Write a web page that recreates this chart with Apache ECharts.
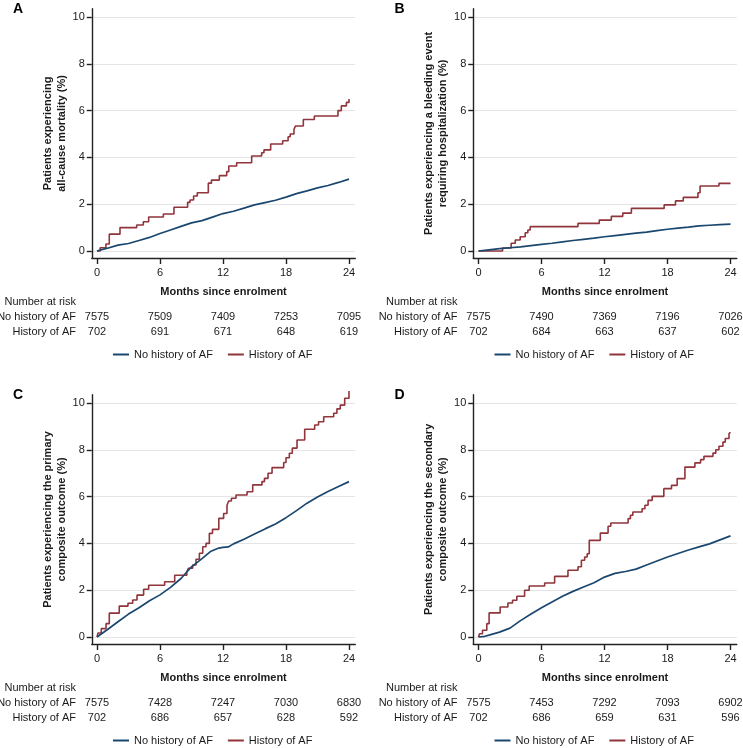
<!DOCTYPE html>
<html><head><meta charset="utf-8">
<script src="https://cdn.jsdelivr.net/npm/echarts@6/dist/echarts.min.js"></script>
<style>html,body{margin:0;padding:0;background:#fff}#c{width:743px;height:748px}</style>
</head><body><div id="c"></div>
<script>
// ---------- data ----------
const months = [0, 6, 12, 18, 24];
const yTicks = [0, 2, 4, 6, 8, 10];
const seriesNames = ['No history of AF', 'History of AF'];
const riskHeader = 'Number at risk';
const xTitle = 'Months since enrolment';

// Panel A: all-cause mortality
const aTitle = 'Patients experiencing\nall-cause mortality (%)';
const aBlueT = [0,1,2,3,4,5,6,7,8,9,10,11,12,13,14,15,16,17,18,19,20,21,22,23,24];
const aBlueV = [0,0.12,0.25,0.32,0.45,0.58,0.75,0.9,1.05,1.2,1.3,1.45,1.6,1.7,1.83,1.97,2.07,2.17,2.3,2.45,2.57,2.7,2.8,2.93,3.07];
const aRedT = [0,0.3,0.85,1.17,2.19,3.78,4.41,4.92,6.32,7.33,8.63,8.86,9.2,9.55,10.6,10.9,11.65,12.35,12.55,13.3,14.73,15.68,15.9,16.54,17.68,18.2,18.4,18.76,18.9,19.65,20.7,22.95,23.27,23.75,24];
const aRedV = [0,0.14,0.3,0.72,1.0,1.11,1.25,1.45,1.58,1.87,2.08,2.18,2.35,2.49,2.9,3.03,3.22,3.39,3.63,3.77,4.06,4.2,4.32,4.57,4.71,4.88,5.0,5.2,5.34,5.62,5.77,6.0,6.2,6.35,6.5];
const aRiskNo = [7575, 7509, 7409, 7253, 7095];
const aRiskAf = [702, 691, 671, 648, 619];

// Panel B: bleeding event requiring hospitalization
const bTitle = 'Patients experiencing a bleeding event\nrequiring hospitalization (%)';
const bBlueT = [0,1,2,3,4,5,6,7,8,9,10,11,12,13,14,15,16,17,18,19,20,21,22,23,24];
const bBlueV = [0,0.05,0.1,0.14,0.18,0.23,0.28,0.33,0.39,0.45,0.5,0.55,0.61,0.66,0.71,0.76,0.81,0.87,0.93,0.98,1.02,1.07,1.1,1.13,1.15];
const bRedT = [0,2.29,3.11,3.5,3.97,4.45,4.7,4.92,9.47,11.5,12.65,13.74,14.56,17.68,18.76,19.5,20.9,21.1,22.9,24];
const bRedV = [0,0.13,0.33,0.47,0.61,0.78,0.9,1.04,1.18,1.32,1.48,1.62,1.82,1.97,2.14,2.29,2.49,2.78,2.89,2.89];
const bRiskNo = [7575, 7490, 7369, 7196, 7026];
const bRiskAf = [702, 684, 663, 637, 602];

// Panel C: primary composite outcome
const cTitle = 'Patients experiencing the primary\ncomposite outcome (%)';
const cBlueT = [0,1,2,3,4,5,6,7,8,9,10,10.8,11.6,12,12.5,13,14,15,16,17,18,19,20,21,22,23,24];
const cBlueV = [0,0.32,0.65,0.98,1.25,1.55,1.8,2.12,2.5,3.0,3.35,3.65,3.8,3.83,3.85,3.98,4.18,4.4,4.62,4.83,5.1,5.4,5.72,5.98,6.22,6.43,6.64];
const cRedT = [0,0.1,0.41,0.86,1.17,2.12,2.95,3.4,3.81,4.44,4.92,6.44,7.4,8.55,8.72,9.11,9.43,9.75,10.07,10.38,10.7,11.0,11.6,12.06,12.38,12.54,12.8,13.24,14.29,14.83,15.71,15.95,16.29,16.67,17.78,18.0,18.32,18.6,19.05,19.78,20.73,21.1,21.59,22.54,22.85,23.17,23.59,24];
const cRedV = [0,0.17,0.36,0.57,1.02,1.32,1.44,1.58,1.79,2.04,2.21,2.36,2.64,2.78,2.94,3.08,3.32,3.58,3.86,4.0,4.43,4.6,5.07,5.28,5.63,5.81,5.93,6.07,6.21,6.5,6.64,6.78,7.0,7.24,7.46,7.66,7.85,8.07,8.42,8.88,9.06,9.2,9.41,9.56,9.75,9.91,10.2,10.51];
const cRiskNo = [7575, 7428, 7247, 7030, 6830];
const cRiskAf = [702, 686, 657, 628, 592];

// Panel D: secondary composite outcome
const dTitle = 'Patients experiencing the secondary\ncomposite outcome (%)';
const dBlueT = [0,0.6,1,2,3,4,5,6,7,8,9,10,11,12,13,14,15,16,17,18,19,20,21,22,23,24];
const dBlueV = [0,0.03,0.08,0.21,0.38,0.7,0.98,1.25,1.5,1.74,1.95,2.14,2.32,2.56,2.72,2.8,2.9,3.08,3.25,3.42,3.57,3.72,3.85,3.98,4.15,4.32];
const dRedT = [0,0.1,0.38,0.79,1.01,2.06,2.8,3.24,3.65,4.39,4.83,6.3,7.25,8.52,9.48,9.8,10.11,10.35,10.55,11.6,12.34,12.6,14.25,14.47,14.7,15.58,15.85,16.15,16.54,17.65,18.38,18.92,19.66,20.61,21.15,21.47,22.33,22.6,22.9,23.28,23.5,23.86,24];
const dRedV = [0,0.14,0.29,0.57,1.03,1.28,1.45,1.57,1.74,2.0,2.18,2.31,2.59,2.85,3.0,3.28,3.42,3.56,4.13,4.44,4.73,4.87,5.06,5.2,5.34,5.48,5.63,5.84,6.01,6.34,6.48,6.77,7.26,7.44,7.58,7.72,7.86,8.0,8.15,8.33,8.48,8.69,8.75];
const dRiskNo = [7575, 7453, 7292, 7093, 6902];
const dRiskAf = [702, 686, 659, 631, 596];

// ---------- layout / style ----------
const BLUE = '#1a476f', RED = '#90353b', INK = '#1a1a1a';
const FONT = '"Liberation Sans", Arial, Helvetica, sans-serif';
const PX = 10.5, PY = 23.4;           // pixels per month / per %
const XMIN = -0.5, XMAX = 24.6, YMIN = -0.3, YMAX = 10.35;

const panels = [
  {letter:'A', x0:97,  y0:251, title:aTitle, bt:aBlueT, bv:aBlueV, rt:aRedT, rv:aRedV, rn:aRiskNo, ra:aRiskAf},
  {letter:'B', x0:478.5, y0:251, title:bTitle, bt:bBlueT, bv:bBlueV, rt:bRedT, rv:bRedV, rn:bRiskNo, ra:bRiskAf},
  {letter:'C', x0:97,  y0:637, title:cTitle, bt:cBlueT, bv:cBlueV, rt:cRedT, rv:cRedV, rn:cRiskNo, ra:cRiskAf},
  {letter:'D', x0:478.5, y0:637, title:dTitle, bt:dBlueT, bv:dBlueV, rt:dRedT, rv:dRedV, rn:dRiskNo, ra:dRiskAf}
];

const zip = (t, v) => t.map((x, i) => [x, v[i]]);
const axisLineStyle = {color:'#222', width:1.4};
const txt = {fontFamily:FONT, fontSize:11, color:INK};

const grid = [], xAxis = [], yAxis = [], series = [], legend = [], graphic = [];

panels.forEach((p, i) => {
  const left = p.x0 + XMIN * PX, top = p.y0 - YMAX * PY;
  grid.push({left, top, width:(XMAX - XMIN) * PX, height:(YMAX - YMIN) * PY,
             containLabel:false, outerBoundsMode:'none'});
  const base = {gridIndex:i, type:'value', min:XMIN, max:XMAX, splitLine:{show:false}};
  const mainIdx = xAxis.length;
  xAxis.push(Object.assign({}, base, {
    position:'bottom',
    axisLine:{show:true, onZero:false, lineStyle:axisLineStyle},
    axisTick:{show:true, customValues:months, length:6, lineStyle:axisLineStyle},
    axisLabel:Object.assign({customValues:months, margin:9}, txt),
    name:xTitle, nameLocation:'middle', nameGap:28,
    nameTextStyle:Object.assign({}, txt, {fontWeight:'bold'})
  }));
  const riskAxis = (offset, vals) => Object.assign({}, base, {
    position:'bottom', offset,
    axisLine:{show:false}, axisTick:{show:false},
    axisLabel:Object.assign({customValues:months, margin:0, verticalAlign:'middle',
      formatter:v => String(vals[months.indexOf(v)])}, txt)
  });
  xAxis.push(riskAxis(59, p.rn));
  xAxis.push(riskAxis(74, p.ra));

  yAxis.push({
    gridIndex:i, type:'value', min:YMIN, max:YMAX,
    axisLine:{show:true, onZero:false, lineStyle:axisLineStyle},
    axisTick:{show:true, customValues:yTicks, length:5, lineStyle:axisLineStyle},
    axisLabel:Object.assign({customValues:yTicks, margin:7}, txt),
    splitLine:{show:true, lineStyle:{color:'#e4e4e4', width:1}},
    name:p.title, nameLocation:'middle', nameGap:22,
    nameTextStyle:Object.assign({}, txt, {fontWeight:'bold', lineHeight:14})
  });

  series.push({
    name:seriesNames[0], type:'line', xAxisIndex:mainIdx, yAxisIndex:i,
    data:zip(p.bt, p.bv), symbol:'none', clip:false,
    lineStyle:{color:BLUE, width:1.7}, itemStyle:{color:BLUE}, z:3
  });
  series.push({
    name:seriesNames[1], type:'line', xAxisIndex:mainIdx, yAxisIndex:i, step:'end',
    data:zip(p.rt, p.rv), symbol:'none', clip:false,
    lineStyle:{color:RED, width:1.6}, itemStyle:{color:RED}, z:2
  });

  legend.push({
    left:p.x0 + 11, top:p.y0 + 93, orient:'horizontal',
    icon:'rect', itemWidth:16, itemHeight:2, itemGap:15,
    textStyle:Object.assign({}, txt), data:seriesNames, selectedMode:false
  });

  graphic.push({
    type:'text', left:p.x0 - 84, top:p.y0 - 249,
    style:{text:p.letter, fontFamily:FONT, fontSize:14, fontWeight:'bold', fill:'#000'}
  });
  [[riskHeader, 51], [seriesNames[0], 66], [seriesNames[1], 81]].forEach(([t, dy]) => {
    graphic.push({
      type:'text', x:p.x0 - 21, y:p.y0 + dy,
      style:{text:t, fontFamily:FONT, fontSize:11, fill:INK, align:'right', verticalAlign:'middle'}
    });
  });
});

const chart = echarts.init(document.getElementById('c'), null, {renderer:'canvas'});
chart.setOption({
  animation:false, backgroundColor:'#fff',
  textStyle:{fontFamily:FONT},
  grid, xAxis, yAxis, series, legend, graphic
});
</script></body></html>
